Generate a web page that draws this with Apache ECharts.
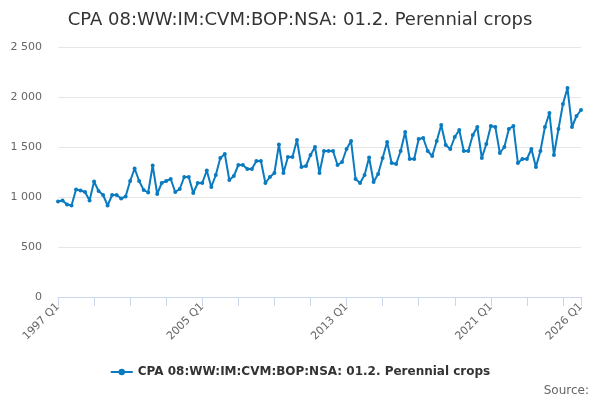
<!DOCTYPE html>
<html>
<head>
<meta charset="utf-8">
<script src="https://cdn.jsdelivr.net/npm/echarts@6/dist/echarts.min.js"></script>
<style>
html,body{margin:0;padding:0;background:#fff;}
#chart{width:600px;height:400px;}
</style>
</head>
<body>
<div id="chart"></div>
<script>
const startYear = 1997;
const endYear = 2026;
const seriesName = "CPA 08:WW:IM:CVM:BOP:NSA: 01.2. Perennial crops";
const values = [
  955, 965, 925, 915,
  1075, 1065, 1050, 965,
  1155, 1060, 1020, 915,
  1020, 1020, 985, 1005,
  1160, 1285, 1160, 1070,
  1045, 1315, 1030, 1140,
  1160, 1180, 1050, 1080,
  1200, 1200, 1040, 1140,
  1140, 1265, 1100, 1220,
  1390, 1430, 1170, 1210,
  1320, 1320, 1280, 1280,
  1360, 1360, 1140, 1200,
  1240, 1525, 1240, 1400,
  1400, 1570, 1300, 1310,
  1420, 1500, 1240, 1460,
  1460, 1460, 1320, 1350,
  1480, 1560, 1180, 1140,
  1220, 1395, 1150, 1230,
  1390, 1550, 1340, 1330,
  1460, 1650, 1380, 1380,
  1580, 1590, 1460, 1410,
  1560, 1720, 1520, 1480,
  1600, 1670, 1460, 1460,
  1620, 1700, 1390, 1530,
  1710, 1700, 1440, 1500,
  1680, 1710, 1340, 1380,
  1380, 1480, 1300, 1460,
  1700, 1840, 1420, 1680,
  1930, 2090, 1700, 1810,
  1870
];
const categories = [];
for (let y = startYear; y <= endYear; y++) {
  for (let q = 1; q <= 4; q++) {
    if (categories.length < values.length) categories.push(y + " Q" + q);
  }
}
const labelEvery = 32;
const tickEvery = 8;
const yTicks = [0, 500, 1000, 1500, 2000, 2500];

const chart = echarts.init(document.getElementById('chart'));
const last = categories.length - 1;
chart.setOption({
  animation: false,
  title: {
    text: seriesName,
    left: 'center',
    top: 6,
    textStyle: {fontFamily: 'DejaVu Sans', fontSize: 18, fontWeight: 'normal', color: '#333'}
  },
  legend: {
    bottom: 17,
    left: 'center',
    itemWidth: 22,
    itemHeight: 8,
    textStyle: {fontFamily: 'DejaVu Sans', fontSize: 12, fontWeight: 'bold', color: '#333'},
    data: [seriesName]
  },
  graphic: [{
    type: 'text',
    right: 11,
    bottom: 3,
    style: {text: 'Source:', fontFamily: 'DejaVu Sans', fontSize: 12, fill: '#666'}
  }],
  grid: {left: 58, right: 19, top: 47, bottom: 103, containLabel: false},
  xAxis: {
    type: 'category',
    data: categories,
    boundaryGap: false,
    axisLine: {lineStyle: {color: '#ccd6eb'}},
    axisTick: {
      alignWithLabel: true,
      length: 9,
      lineStyle: {color: '#ccd6eb'},
      interval: (i) => i % tickEvery === 0 || i === last
    },
    axisLabel: {
      rotate: 45,
      fontFamily: 'DejaVu Sans',
      fontSize: 11,
      color: '#666',
      margin: 8,
      interval: (i) => i % labelEvery === 0 || i === last
    },
    splitLine: {show: false}
  },
  yAxis: {
    type: 'value',
    min: yTicks[0],
    max: yTicks[yTicks.length - 1],
    interval: yTicks[1] - yTicks[0],
    axisLine: {show: false},
    axisTick: {show: false},
    axisLabel: {
      fontFamily: 'DejaVu Sans',
      fontSize: 11,
      color: '#666',
      margin: 16,
      formatter: (v) => String(v).replace(/\B(?=(\d{3})+(?!\d))/g, ' ')
    },
    splitLine: {lineStyle: {color: '#e6e6e6'}}
  },
  series: [{
    name: seriesName,
    type: 'line',
    data: values,
    symbol: 'circle',
    symbolSize: 4,
    showAllSymbol: true,
    lineStyle: {width: 2, color: '#0b7bc1'},
    itemStyle: {color: '#0b7bc1'}
  }]
});
</script>
</body>
</html>
